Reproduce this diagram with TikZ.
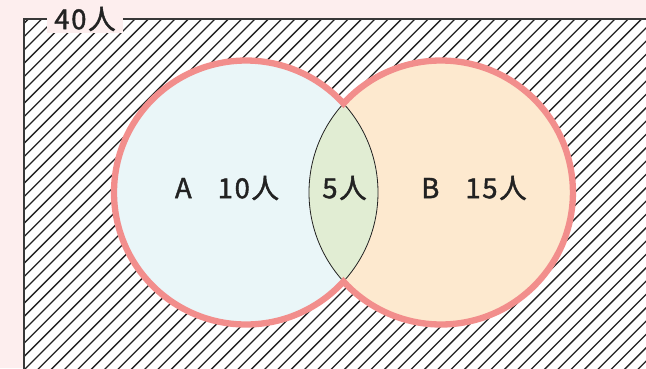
\documentclass[tikz,border=0pt]{standalone}
\usepackage{fontspec}
\setmainfont[FakeBold=1.5,LetterSpace=6]{Noto Sans CJK JP}
\definecolor{pagebg}{HTML}{FDEEEE}
\definecolor{afill}{HTML}{EAF6F8}
\definecolor{bfill}{HTML}{FDE9CF}
\definecolor{lensfill}{HTML}{E1EDD3}
\definecolor{ringc}{HTML}{F28E8C}
\definecolor{inkc}{HTML}{222222}
\tikzset{
  hatchline/.style={draw=inkc, line width=1.3pt},
  frameline/.style={draw=inkc!90, line width=1.3pt},
  ring/.style={draw=ringc, line width=6.3pt, line join=miter},
  lensline/.style={draw=inkc, line width=0.8pt},
  lbl/.style={text=inkc, font=\fontsize{27.5}{32}\selectfont, inner sep=0pt},
}
\begin{document}
\begin{tikzpicture}[x=1pt,y=-1pt]
\useasboundingbox (0,0) rectangle (646,368);
\clip (0,0) rectangle (646,368);
\fill[pagebg] (0,0) rectangle (646,368);
% universe
\fill[white] (24,19) rectangle (700,420);
\begin{scope}
  \clip (24,19) rectangle (700,420);
  \foreach \k in {0,...,75}
    \draw[hatchline] ({28.4+13.33*\k+20},-1) -- ++(-450,450);
\end{scope}
\draw[frameline] (24,420) -- (24,19) -- (700,19);
% circles
\coordinate (ca) at (246,192.5);
\coordinate (cb) at (441,192.5);
\fill[afill] (ca) circle (132);
\fill[bfill] (cb) circle (132);
\begin{scope}
  \clip (ca) circle (132);
  \fill[lensfill] (cb) circle (132);
  \draw[lensline] (cb) circle (132);
\end{scope}
\begin{scope}
  \clip (cb) circle (132);
  \draw[lensline] (ca) circle (132);
\end{scope}
% outer boundary of the union
\draw[ring] (ca) ++(42.4:132) arc[start angle=42.4, end angle=317.6, radius=132]
  arc[start angle=222.4, end angle=497.6, radius=132] -- cycle;
% labels
\node[lbl, fill=pagebg, minimum width=76pt, minimum height=28pt] (total) at (85,19) {40人};
\node[lbl] (la) at (227,188) {A\hspace{26pt}10人};
\node[lbl] (lab) at (344.5,188) {5人};
\node[lbl] (lb) at (474,188) {B\hspace{26pt}15人};
\end{tikzpicture}
\end{document}
